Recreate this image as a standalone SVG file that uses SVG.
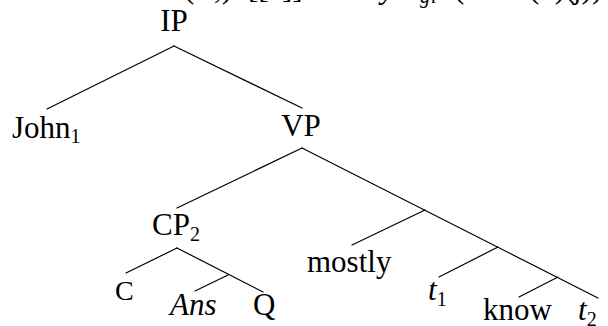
<svg xmlns="http://www.w3.org/2000/svg" width="608" height="326" viewBox="0 0 608 326">
  <style>
    text { font-family: "Liberation Serif", "DejaVu Serif", serif; font-size: 31px; fill: #000; }
    .it { font-style: italic; }
    .sub { font-size: 20px; }
    .mid { text-anchor: middle; }
    #edges line { stroke: #000; stroke-width: 1.2; stroke-linecap: round; }
  </style>
  <rect width="608" height="326" fill="#fff"/>

  <!-- bottom edge of the formula line above the tree (clipped by the page top) -->
  <g id="formula">
    <text x="184" y="-2">(</text>
    <text x="214" y="-2">,)</text>
    <text x="248" y="-2">[[</text>
    <text x="282" y="-2">]]</text>
    <text x="381" y="-2" class="it">y</text>
    <text x="420" y="3" class="it sub">g</text>
    <text x="431" y="3" class="it sub">i</text>
    <text x="454" y="-2">(</text>
    <text x="472" y="-2">I</text>
    <text x="529" y="-2">(1)(</text>
    <text x="573" y="-2">j))</text>
  </g>

  <g id="edges">
    <line x1="174" y1="46" x2="47" y2="109"/>
    <line x1="174" y1="46" x2="302" y2="108"/>
    <line x1="302" y1="148" x2="177" y2="208"/>
    <line x1="302" y1="148" x2="598" y2="298"/>
    <line x1="425" y1="210" x2="352" y2="245"/>
    <line x1="498" y1="247" x2="439" y2="277"/>
    <line x1="558" y1="277" x2="519" y2="297"/>
    <line x1="177" y1="248" x2="126" y2="273"/>
    <line x1="177" y1="248" x2="263" y2="292"/>
    <line x1="228" y1="275" x2="195" y2="291"/>
  </g>

  <g id="IP"><text x="174" y="31" class="mid">IP</text></g>
  <g id="John"><text x="12" y="138">John<tspan class="sub" dy="5">1</tspan></text></g>
  <g id="VP"><text x="301" y="136" class="mid">VP</text></g>
  <g id="CP"><text x="152" y="235">CP<tspan class="sub" dy="6">2</tspan></text></g>
  <g id="C"><text x="115" y="300" style="font-size:28px">C</text></g>
  <g id="Ans"><text x="170" y="315" class="it">Ans</text></g>
  <g id="Q"><text x="253" y="315">Q</text></g>
  <g id="mostly"><text x="307" y="272">mostly</text></g>
  <g id="t1"><text x="428" y="300" class="it">t<tspan class="sub" style="font-style:normal" dy="6">1</tspan></text></g>
  <g id="know"><text x="483" y="320">know</text></g>
  <g id="t2"><text x="578" y="320" class="it">t<tspan class="sub" style="font-style:normal" dy="6">2</tspan></text></g>
</svg>
